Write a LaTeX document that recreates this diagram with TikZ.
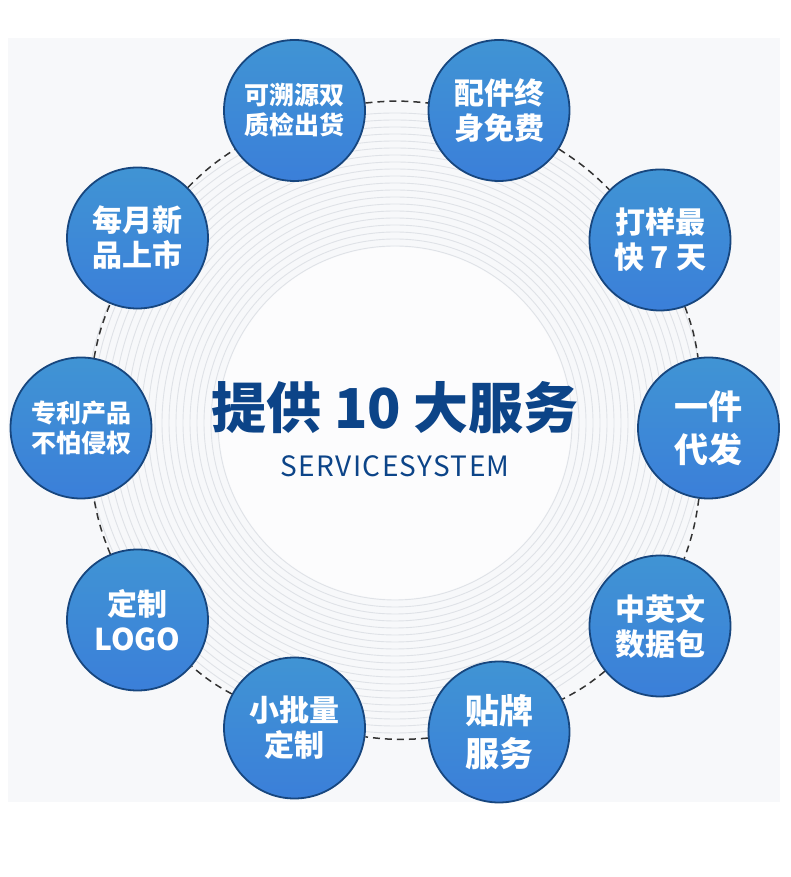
\documentclass[tikz,border=0pt]{standalone}
\usepackage{fontspec}
\setmainfont{Noto Sans CJK SC}
\usetikzlibrary{calc}
\definecolor{bgray}{HTML}{F7F8FA}
\definecolor{ringc}{HTML}{DFE2E7}
\definecolor{navy}{HTML}{0C4488}
\definecolor{ctop}{HTML}{4094D4}
\definecolor{cbot}{HTML}{3B7FD9}
\definecolor{cedge}{HTML}{17467E}
\definecolor{dashc}{HTML}{333333}
\tikzset{
  svc/.style={circle, minimum size=141pt, inner sep=0pt, draw=cedge, line width=1.8pt,
    top color=ctop, bottom color=cbot, text=white, align=center,
    font=\bfseries\fontsize{30}{35}\selectfont},
  svcsmall/.style={font=\bfseries\fontsize{25}{30}\selectfont},
  svcbig/.style={font=\bfseries\fontsize{34}{43}\selectfont},
  link/.style={draw=dashc, line width=1.5pt, dash pattern=on 7pt off 5pt},
  ringline/.style={draw=ringc, line width=0.9pt},
  titletext/.style={text=navy, font=\bfseries\fontsize{55}{60}\selectfont},
  subtext/.style={text=navy, font=\fontsize{28}{30}\selectfont\addfontfeature{LetterSpace=5}}
}
\begin{document}
\begin{tikzpicture}[x=1pt,y=1pt]
\useasboundingbox (0,0) rectangle (790,877);
\fill[white] (0,0) rectangle (790,877);
\fill[bgray] (8,75) rectangle (780,839);
\coordinate (ctr) at (395,454);
\foreach \r in {177,184,...,310} \draw[ringline] (ctr) circle (\r pt);
\fill[white!60!bgray] (ctr) circle (176pt);
% nodes
\node[svc, svcsmall] (A) at (294.5,766.5) {可溯源双\\质检出货};
\node[svc] (B) at (499,766.5) {配件终\\身免费};
\node[svc] (C) at (660,637) {打样最\\快 7 天};
\node[svc, svcbig] (D) at (708.5,449) {一件\\代发};
\node[svc] (E) at (660,251) {中英文\\数据包};
\node[svc, svcbig] (F) at (499,145) {贴牌\\服务};
\node[svc] (G) at (294.5,149) {小批量\\定制};
\node[svc] (H) at (137.5,257) {定制\\LOGO};
\node[svc, svcsmall] (I) at (81,449) {专利产品\\不怕侵权};
\node[svc] (J) at (137.5,639) {每月新\\品上市};
% connectors
\draw[link] (A) to[bend left=6] (B);
\draw[link] (B) to[bend left=6] (C);
\draw[link] (C) to[bend left=6] (D);
\draw[link] (D) to[bend left=6] (E);
\draw[link] (E) to[bend left=6] (F);
\draw[link] (F) to[bend left=6] (G);
\draw[link] (G) to[bend left=6] (H);
\draw[link] (H) to[bend left=6] (I);
\draw[link] (I) to[bend left=6] (J);
\draw[link] (J) to[bend left=6] (A);
% title
\node[titletext] (T) at (395,469) {提供 10 大服务};
\node[subtext] (S) at (395,411) {SERVICESYSTEM};
\end{tikzpicture}
\end{document}
